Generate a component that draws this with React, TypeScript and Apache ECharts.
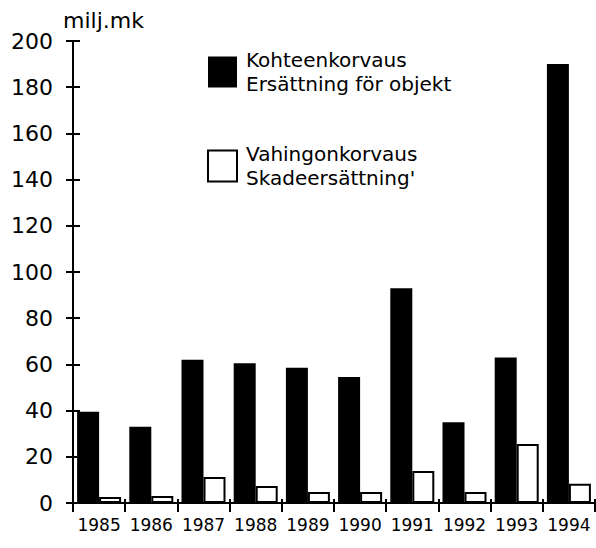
import React, { useEffect, useRef } from "react";
import * as echarts from "echarts";

const years = ["1985", "1986", "1987", "1988", "1989", "1990", "1991", "1992", "1993", "1994"];
const kohteenkorvaus = [39.5, 33, 62, 60.5, 58.5, 54.5, 93, 35, 63, 190];
const vahingonkorvaus = [2.6, 3, 11.3, 7.4, 4.8, 4.8, 13.9, 4.8, 25.5, 8.3];
const seriesNames = ["Kohteenkorvaus\nErsättning för objekt", "Vahingonkorvaus\nSkadeersättning'"];
const unitLabel = "milj.mk";

const FONT = "DejaVu Sans";

export default function App() {
  const ref = useRef<HTMLDivElement>(null);
  useEffect(() => {
    if (!ref.current) return;
    const chart = echarts.init(ref.current, undefined, { renderer: "svg" });
    chart.setOption({
      animation: false,
      backgroundColor: "#ffffff",
      textStyle: { fontFamily: FONT, color: "#000" },
      grid: { left: 73, right: 1, top: 41, bottom: 45, containLabel: false },
      legend: {
        orient: "vertical",
        left: 202,
        top: 43,
        itemWidth: 29,
        itemHeight: 31,
        itemGap: 46,
        icon: "rect",
        textStyle: { fontFamily: FONT, fontSize: 20, color: "#000", lineHeight: 24, padding: [0, 0, 0, 4] },
        data: seriesNames,
      },
      graphic: [
        {
          type: "text",
          left: 63,
          top: 9,
          style: { text: unitLabel, fontFamily: FONT, fontSize: 22, fill: "#000" },
        },
      ],
      xAxis: [
        {
          type: "category",
          data: years,
          boundaryGap: true,
          axisLine: { show: true, lineStyle: { color: "#000", width: 2 } },
          axisTick: { show: true, inside: false, length: 9, lineStyle: { color: "#000", width: 2 } },
          axisLabel: { interval: 0, fontFamily: FONT, fontSize: 17, color: "#000", margin: 13 },
          splitLine: { show: false },
        },
        {
          type: "category",
          data: years,
          position: "bottom",
          boundaryGap: true,
          axisLine: { show: false },
          axisTick: { show: true, inside: true, length: 4, lineStyle: { color: "#000", width: 2 } },
          axisLabel: { show: false },
          splitLine: { show: false },
        },
      ],
      yAxis: [
        {
          type: "value",
          min: 0,
          max: 200,
          interval: 20,
          axisLine: { show: true, lineStyle: { color: "#000", width: 2 } },
          axisTick: { show: true, inside: false, length: 7, lineStyle: { color: "#000", width: 2 } },
          axisLabel: { fontFamily: FONT, fontSize: 22, color: "#000", margin: 20 },
          splitLine: { show: false },
        },
        {
          type: "value",
          min: 0,
          max: 200,
          interval: 20,
          position: "left",
          axisLine: { show: false },
          axisTick: { show: true, inside: true, length: 7, lineStyle: { color: "#000", width: 2 } },
          axisLabel: { show: false },
          splitLine: { show: false },
        },
      ],
      series: [
        {
          name: seriesNames[0],
          type: "bar",
          data: kohteenkorvaus,
          barWidth: 22,
          barGap: "0%",
          itemStyle: { color: "#000", borderColor: "#000", borderWidth: 0 },
        },
        {
          name: seriesNames[1],
          type: "bar",
          data: vahingonkorvaus,
          barWidth: 22,
          barGap: "0%",
          itemStyle: { color: "#fff", borderColor: "#000", borderWidth: 2 },
        },
      ],
    });
    return () => chart.dispose();
  }, []);
  return (
    <div
      ref={ref}
      style={{ position: "fixed", left: 0, top: 0, width: 596, height: 548, background: "#fff" }}
    />
  );
}
